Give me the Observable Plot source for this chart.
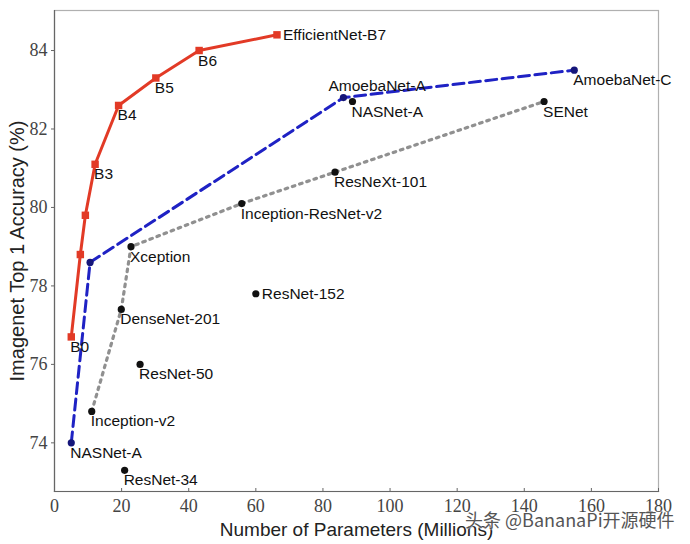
<!DOCTYPE html>
<html><head><meta charset="utf-8">
<script src="https://cdn.jsdelivr.net/npm/d3@7"></script>
<script src="https://cdn.jsdelivr.net/npm/@observablehq/plot@0.6"></script>
<style>
body{margin:0;background:#fff;}
#wrap{position:relative;width:690px;height:544px;}
#wm{position:absolute;left:465px;top:510px;font-family:"Noto Sans CJK SC","Liberation Sans",sans-serif;font-size:18px;line-height:1;color:#555;white-space:nowrap;text-shadow:0 0 2px #fff,0 0 2px #fff;z-index:2;}
</style></head><body>
<div id="wrap"><div id="wm">头条 @BananaPi开源硬件</div></div>
<script>
// EfficientNet family (red, squares)
const effNames = ["B0", "", "", "B3", "B4", "B5", "B6", "EfficientNet-B7"];
const effParams = [5.0, 7.7, 9.2, 12.1, 19.1, 30.2, 43.1, 66.3];
const effAcc = [76.7, 78.8, 79.8, 81.1, 82.6, 83.3, 84.0, 84.4];

// NASNet / AmoebaNet frontier (blue dashed)
const nasNames = ["NASNet-A", "", "AmoebaNet-A", "AmoebaNet-C"];
const nasParams = [5.0, 10.6, 86.1, 154.9];
const nasAcc = [74.0, 78.6, 82.8, 83.5];

// Hand-designed frontier (gray dotted)
const grayNames = ["Inception-v2", "DenseNet-201", "Xception", "Inception-ResNet-v2", "ResNeXt-101", "SENet"];
const grayParams = [11.1, 19.9, 22.8, 55.8, 83.6, 145.9];
const grayAcc = [74.8, 77.4, 79.0, 80.1, 80.9, 82.7];

// Other models (black dots)
const otherNames = ["NASNet-A", "ResNet-152", "ResNet-50", "ResNet-34"];
const otherParams = [88.8, 60.0, 25.5, 20.9];
const otherAcc = [82.7, 77.8, 76.0, 73.3];

const xTicks = [0, 20, 40, 60, 80, 100, 120, 140, 160, 180];
const yTicks = [74, 76, 78, 80, 82, 84];
const xLabel = "Number of Parameters (Millions)";
const yLabel = "Imagenet Top 1 Accuracy (%)";

const rightLabels = ["EfficientNet-B7", "ResNet-152"];
const aboveLabels = ["AmoebaNet-A"];

const mk = (names, params, acc, group) => names.map((n, i) => ({name: n, x: params[i], y: acc[i], group}));
const eff = mk(effNames, effParams, effAcc, "eff");
const nas = mk(nasNames, nasParams, nasAcc, "nas");
const gray = mk(grayNames, grayParams, grayAcc, "gray");
const other = mk(otherNames, otherParams, otherAcc, "other");
const all = [...eff, ...nas, ...gray, ...other].filter(d => d.name !== "");

const W = 690, H = 544, mT = 10, mB = 53, mL = 54, mR = 32;
const innerH = H - mT - mB, innerW = W - mL - mR;

const red = "#e23a26", blue = "#1f22c4", navy = "#15167a";
const labelFont = {fontSize: 15.5, fill: "#111", fontFamily: "Liberation Sans, Arial, sans-serif"};
const serif = "'Liberation Serif', 'Times New Roman', serif";

const chart = Plot.plot({
  width: W, height: H,
  marginTop: mT, marginBottom: mB, marginLeft: mL, marginRight: mR,
  x: {domain: [0, 180], axis: null},
  y: {domain: [72.76, 85.02], axis: null},
  style: {fontFamily: "Liberation Sans, Arial, sans-serif", background: "#fff"},
  marks: [
    Plot.frame({stroke: "#b0b0b0", strokeWidth: 1.2}),
    Plot.frame({anchor: "left", stroke: "#666", strokeWidth: 1.2}),
    Plot.frame({anchor: "bottom", stroke: "#666", strokeWidth: 1.2}),
    // ticks: y outward, x inward
    Plot.ruleY(yTicks, {y: d => d, insetRight: innerW - 3, dx: -3, stroke: "#666"}),
    Plot.ruleX(xTicks, {x: d => d, insetTop: innerH - 3, stroke: "#666"}),
    // tick labels
    Plot.text(yTicks, {y: d => d, text: d => String(d), frameAnchor: "left", textAnchor: "end", dx: -7, fontSize: 18, fill: "#444", fontFamily: serif}),
    Plot.text(xTicks, {x: d => d, text: d => String(d), frameAnchor: "bottom", lineAnchor: "top", dy: 8, fontSize: 18, fill: "#444", fontFamily: serif}),
    // axis titles
    Plot.text([yLabel], {frameAnchor: "left", dx: -31, rotate: -90, textAnchor: "middle", lineAnchor: "bottom", fontSize: 20, fill: "#222"}),
    Plot.text([xLabel], {frameAnchor: "bottom", dy: 44, textAnchor: "middle", lineAnchor: "bottom", fontSize: 19, fill: "#222"}),
    // lines
    Plot.line(gray, {x: "x", y: "y", stroke: "#909090", strokeWidth: 3.2, strokeDasharray: "2.6,5"}),
    Plot.line(nas, {x: "x", y: "y", stroke: blue, strokeWidth: 3, strokeDasharray: "11,5.5"}),
    Plot.line(eff, {x: "x", y: "y", stroke: red, strokeWidth: 3}),
    // points
    Plot.dot([...gray, ...other], {x: "x", y: "y", r: 3.6, fill: "#111", stroke: "none"}),
    Plot.dot(nas, {x: "x", y: "y", r: 3.6, fill: navy, stroke: "none"}),
    Plot.dot(eff, {x: "x", y: "y", r: 4.2, symbol: "square", fill: red, stroke: "none"}),
    // labels
    Plot.text(all.filter(d => !rightLabels.includes(d.name) && !aboveLabels.includes(d.name)), {x: "x", y: "y", text: "name", textAnchor: "start", lineAnchor: "top", dx: -1, dy: 4, ...labelFont}),
    Plot.text(all.filter(d => rightLabels.includes(d.name)), {x: "x", y: "y", text: "name", textAnchor: "start", lineAnchor: "middle", dx: 6, ...labelFont}),
    Plot.text(all.filter(d => aboveLabels.includes(d.name)), {x: "x", y: "y", text: "name", textAnchor: "start", lineAnchor: "middle", dx: -15, dy: -12, ...labelFont})
  ]
});
document.getElementById("wrap").prepend(chart);
</script>
</body></html>
